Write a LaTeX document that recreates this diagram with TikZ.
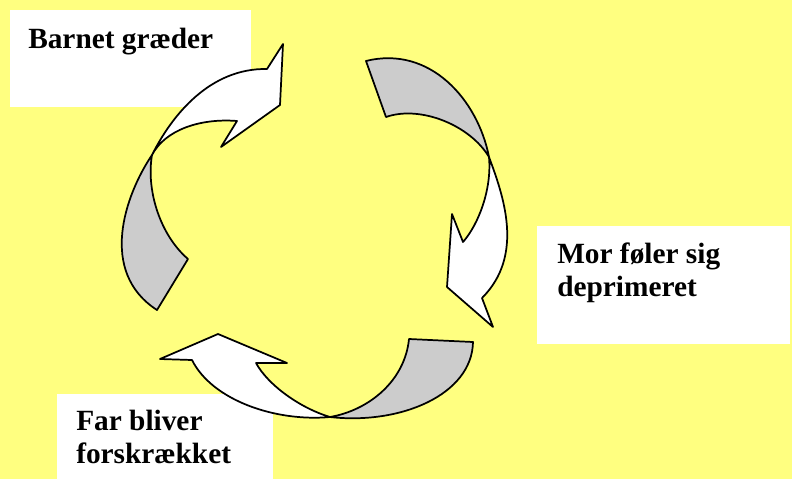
\documentclass[tikz,border=0pt]{standalone}
\usepackage{fontspec}
\setmainfont{Liberation Serif}
\usepackage{tikz}
\usetikzlibrary{positioning}

\definecolor{paper}{RGB}{255,255,128}
\definecolor{backgray}{RGB}{204,204,204}

\begin{document}
\begin{tikzpicture}[x=0.75pt, y=-0.75pt,
    band/.style={draw=black, line width=1.3pt, line join=round},
    front/.style={band, fill=white},
    back/.style={band, fill=backgray},
    lbl/.style={anchor=base west, inner sep=0pt, font=\fontsize{22}{26}\selectfont\bfseries}]
    \useasboundingbox (0,0) rectangle (792,479);
    \fill[paper] (0,0) rectangle (792,479);

    % white boxes behind the texts
    \fill[white] (10,10) rectangle (251,107);
    \fill[white] (537,226) rectangle (790,344);
    \fill[white] (57,394) rectangle (273,479);

    \node[lbl] (barn) at (28,48) {Barnet græder};
    \node[lbl] (mor1) at (557,263) {Mor føler sig};
    \node[lbl] (mor2) at (557,296) {deprimeret};
    \node[lbl] (far1) at (76,430) {Far bliver};
    \node[lbl] (far2) at (76,463) {forskrækket};

    % upper left arrow
    \draw[front] (152,155) .. controls (172,115) and (210,68) .. (267,69)
        -- (283,44) -- (280,105) -- (221,147) -- (237,121)
        .. controls (200,118) and (165,130) .. (152,155) -- cycle;
    \draw[back] (152,155) .. controls (125,195) and (98,272) .. (157,310)
        -- (188,259) .. controls (160,235) and (146,190) .. (152,155) -- cycle;

    % right arrow
    \draw[front] (489,157) .. controls (503,195) and (525,255) .. (482,298)
        -- (493,327) -- (447,287) -- (452,214) -- (463,242)
        .. controls (478,225) and (492,190) .. (489,157) -- cycle;
    \draw[back] (489,157) .. controls (478,100) and (430,45) .. (366,61)
        -- (386,117) .. controls (420,105) and (470,125) .. (489,157) -- cycle;

    % bottom arrow
    \draw[front] (330,417) .. controls (275,422) and (212,400) .. (192,360)
        -- (160,359) -- (218,334) -- (287,363) -- (256,363)
        .. controls (268,385) and (300,408) .. (330,417) -- cycle;
    \draw[back] (330,417) .. controls (370,410) and (405,380) .. (409,339)
        -- (473,342) .. controls (472,395) and (400,425) .. (330,417) -- cycle;
\end{tikzpicture}
\end{document}
